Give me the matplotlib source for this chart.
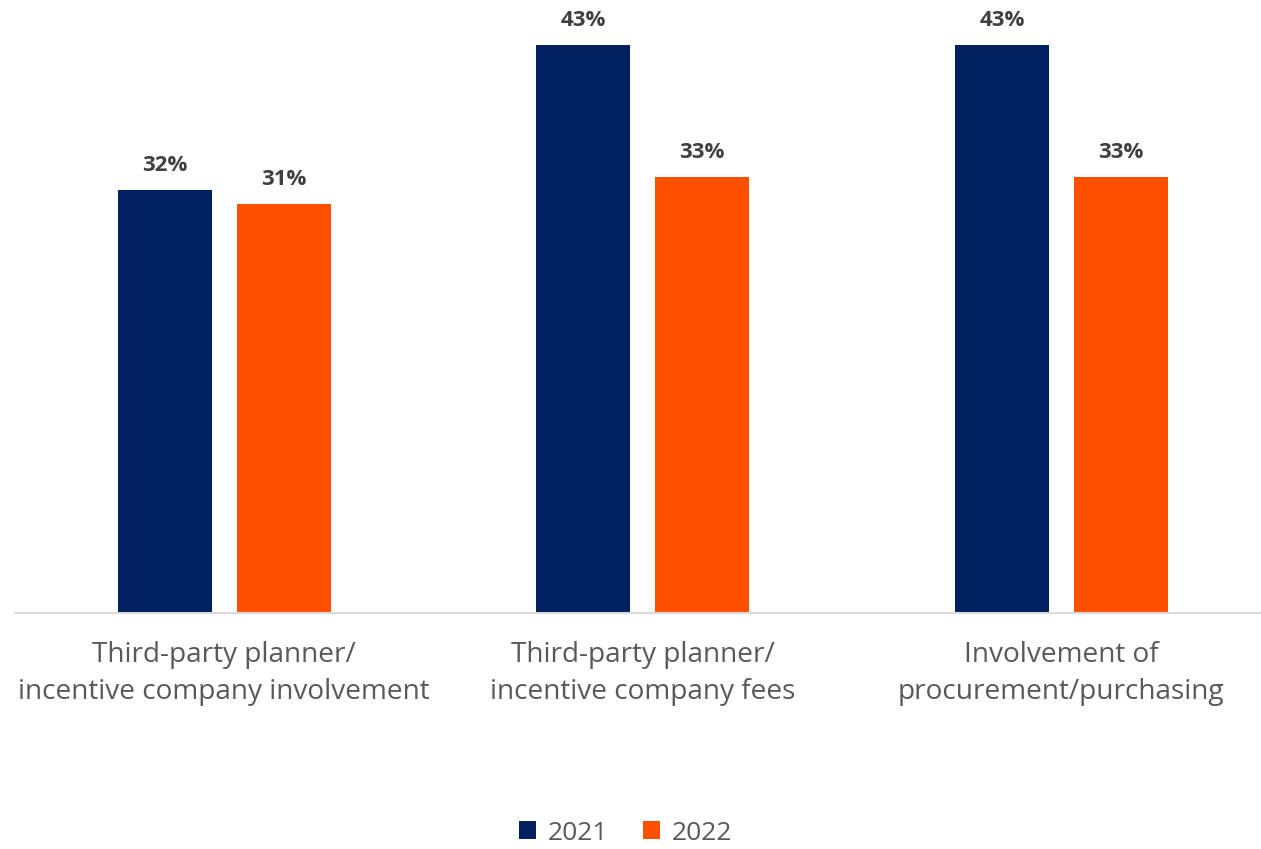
import matplotlib
matplotlib.use('Agg')
import matplotlib.pyplot as plt
import numpy as np

categories = ['Third-party planner/\nincentive company involvement',
              'Third-party planner/\nincentive company fees',
              'Involvement of\nprocurement/purchasing']
years = ['2021', '2022']
values_2021 = [32, 43, 43]
values_2022 = [31, 33, 33]
colors = ['#002060', '#FF5000']

plt.rcParams['font.family'] = ['Open Sans', 'DejaVu Sans']

fig = plt.figure(figsize=(12.61, 8.49), dpi=100)
ax = fig.add_axes([15 / 1261, 1 - 613 / 849, 1255.5 / 1261, 613 / 849])

x = np.arange(len(categories))
width = 0.225
offset = 0.142
bars1 = ax.bar(x - offset, values_2021, width, color=colors[0], label=years[0])
bars2 = ax.bar(x + offset, values_2022, width, color=colors[1], label=years[1])

for bars in (bars1, bars2):
    for b in bars:
        ax.annotate('{}%'.format(int(b.get_height())),
                    (b.get_x() + b.get_width() / 2, b.get_height()),
                    xytext=(0, 10), textcoords='offset points',
                    ha='center', va='bottom', fontsize=16, fontweight='bold',
                    color='#404040')

ax.set_xlim(-0.5, 2.5)
ax.set_ylim(0, 613 / (568 / 43))
ax.set_yticks([])
ax.set_xticks(x)
ax.set_xticklabels(categories, fontsize=20.2, color='#595959', linespacing=1.45)
ax.tick_params(axis='x', length=0, pad=20)
for s in ['top', 'right', 'left']:
    ax.spines[s].set_visible(False)
ax.spines['bottom'].set_color('#D9D9D9')
ax.spines['bottom'].set_linewidth(1.5)

fig.legend(loc='center', bbox_to_anchor=(0.496, 1 - 833 / 849), ncol=2, frameon=False,
           fontsize=19, handlelength=0.65, handleheight=0.65, handletextpad=0.45,
           columnspacing=1.3, labelcolor='#595959', borderpad=0.2)

fig.savefig('out.png', dpi=100)
